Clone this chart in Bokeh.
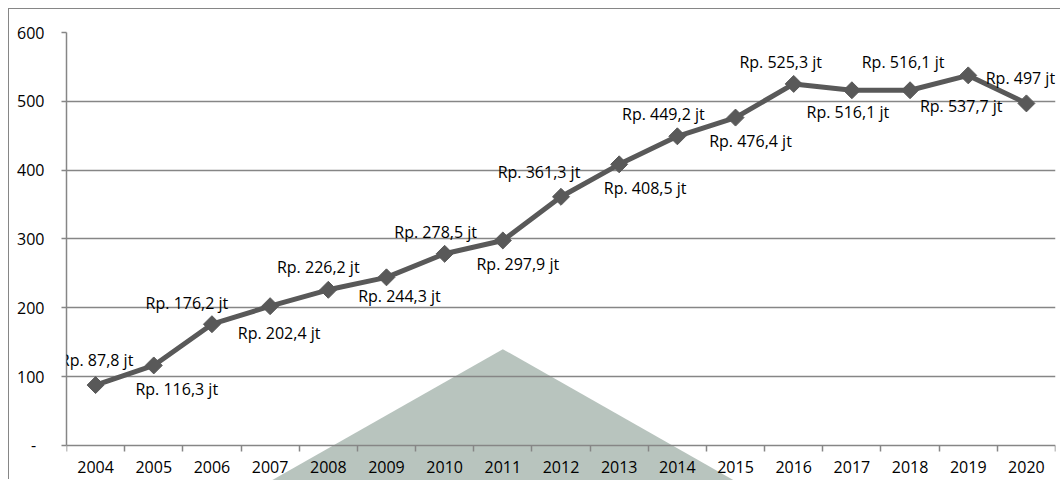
import math
from bokeh.plotting import figure
from bokeh.core.properties import value
from bokeh.models import (Range1d, FixedTicker, LinearAxis,
                          ColumnDataSource, LabelSet, Grid)
from bokeh.embed import file_html
from bokeh.resources import INLINE

# ---- data ----
years = ["2004", "2005", "2006", "2007", "2008", "2009", "2010", "2011", "2012",
         "2013", "2014", "2015", "2016", "2017", "2018", "2019", "2020"]
values = [87.8, 116.3, 176.2, 202.4, 226.2, 244.3, 278.5, 297.9, 361.3,
          408.5, 449.2, 476.4, 525.3, 516.1, 516.1, 537.7, 497.0]
value_labels = ["Rp. 87,8 jt", "Rp. 116,3 jt", "Rp. 176,2 jt", "Rp. 202,4 jt",
                "Rp. 226,2 jt", "Rp. 244,3 jt", "Rp. 278,5 jt", "Rp. 297,9 jt",
                "Rp. 361,3 jt", "Rp. 408,5 jt", "Rp. 449,2 jt", "Rp. 476,4 jt",
                "Rp. 525,3 jt", "Rp. 516,1 jt", "Rp. 516,1 jt", "Rp. 537,7 jt",
                "Rp. 497 jt"]
y_ticks = [0, 100, 200, 300, 400, 500, 600]
zero_label = "-\u00a0\u00a0"

# label placement (screen px, right / down)
label_dx = [1, 23, -25, 9, -10, 13, -9, 15, -22, 26, -14, 15, -13, -4, -7, -7, -6]
label_dy = [-25, 24, -21, 27, -23, 19, -22, 24, -25, 24, -22, 23, -22, 22, -28, 31, -25]

# decorative triangle (data coords)
tri_x = [3, 7, 11]
tri_y = [-52, 140, -52]

GRAY = "#868686"
LINE = "#595959"
FONT = "Open Sans"

idx = list(range(len(years)))
src = ColumnDataSource(dict(x=idx, y=values, text=value_labels,
                            dx=label_dx, dy=[-d for d in label_dy]))

p = figure(width=1052, height=471, margin=(9, 0, 0, 9),
           output_backend="svg", toolbar_location=None,
           x_range=Range1d(-0.5, len(years) - 0.5), y_range=Range1d(-50.85, 600),
           x_axis_type=None, y_axis_type=None,
           min_border_left=57, min_border_right=6, min_border_top=23, min_border_bottom=0,
           styles={"box-shadow": "-1px -1px 0 0 #868686"})
p.outline_line_color = None
p.background_fill_color = "white"
p.border_fill_color = "white"

# decorative triangle, beneath grid lines
p.patch(tri_x, tri_y, fill_color="#b8c4be", line_color=None, level="image")

p.add_layout(Grid(dimension=1, ticker=FixedTicker(ticks=y_ticks[1:]),
                  grid_line_color=GRAY, grid_line_width=1.5))

yaxis = LinearAxis(ticker=FixedTicker(ticks=y_ticks), bounds=(0, 600),
                   major_label_overrides={0: zero_label},
                   axis_line_color=GRAY, axis_line_width=1.5,
                   major_tick_line_color=GRAY, major_tick_line_width=1.5,
                   major_tick_in=0, major_tick_out=5,
                   minor_tick_line_color=None,
                   major_label_standoff=17,
                   major_label_text_font=FONT, major_label_text_font_size="16px",
                   major_label_text_color="black")
p.add_layout(yaxis, "left")

# category axis drawn at y = 0 (ticks between categories)
xaxis = LinearAxis(ticker=FixedTicker(ticks=idx, minor_ticks=[i - 0.5 for i in range(len(years) + 1)]),
                   major_label_overrides={i: y for i, y in zip(idx, years)},
                   fixed_location=0,
                   axis_line_color=GRAY, axis_line_width=1.5,
                   major_tick_line_color=None, major_tick_in=0, major_tick_out=0,
                   minor_tick_line_color=GRAY, minor_tick_line_width=1.5,
                   minor_tick_in=6, minor_tick_out=0,
                   major_label_standoff=-28,
                   major_label_text_font=FONT, major_label_text_font_size="16px",
                   major_label_text_color="black")
p.add_layout(xaxis, "above")

p.line("x", "y", source=src, line_color=LINE, line_width=5)
p.scatter("x", "y", source=src, marker="square", size=12, angle=math.pi / 4,
          fill_color=LINE, line_color=LINE)

p.add_layout(LabelSet(x="x", y="y", text="text", source=src,
                      x_offset="dx", y_offset="dy",
                      text_align="center", text_baseline="middle",
                      text_font=value(FONT), text_font_size=value("16px"),
                      text_color="black"))

open("out.html", "w").write(file_html(p, INLINE))
